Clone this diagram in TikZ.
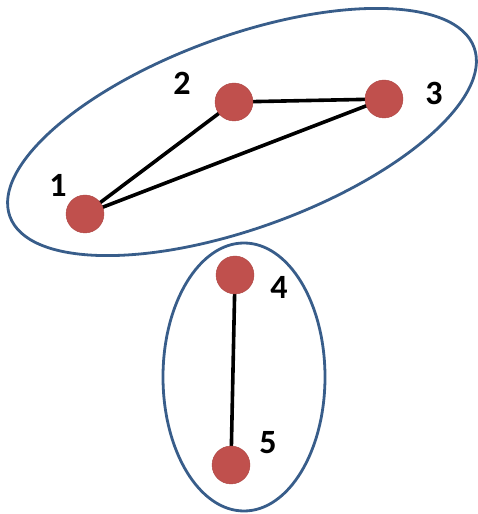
\documentclass[tikz,border=0pt]{standalone}
\usepackage{fontspec}
\setmainfont{Carlito}
\definecolor{knotenrot}{RGB}{192,80,77}
\definecolor{randblau}{RGB}{56,93,138}
\begin{document}
\begin{tikzpicture}[x=1pt,y=1pt,
		knoten/.style={circle,fill=knotenrot,draw=knotenrot!90!black,minimum size=38pt,inner sep=0pt},
		nummer/.style={font=\fontsize{34}{38}\selectfont\bfseries},
		kante/.style={line width=3.6pt,black},
		gruppe/.style={draw=randblau,line width=2.8pt}]
	\useasboundingbox (0,0) rectangle (478,514);
	
	% Gruppen
	\draw[gruppe,rotate around={20:(242,382)}] (242,382) ellipse (247 and 96);
	\draw[gruppe] (244,137) ellipse (81 and 134);
	
	% Kanten
	\coordinate (c1) at (85,300);
	\coordinate (c2) at (234,412);
	\coordinate (c3) at (384,415);
	\coordinate (c4) at (235,239);
	\coordinate (c5) at (231,49);
	\draw[kante] (c1) -- (c2) -- (c3) -- (c1);
	\draw[kante] (c4) -- (c5);
	
	% Knoten
	\node[knoten] (k1) at (c1) {};
	\node[knoten] (k2) at (c2) {};
	\node[knoten] (k3) at (c3) {};
	\node[knoten] (k4) at (c4) {};
	\node[knoten] (k5) at (c5) {};
	
	% Beschriftungen
	\node[nummer] (n1) at (58,329) {1};
	\node[nummer] (n2) at (182,431) {2};
	\node[nummer] (n3) at (434,421) {3};
	\node[nummer] (n4) at (279,227) {4};
	\node[nummer] (n5) at (268,71) {5};
\end{tikzpicture}
\end{document}
